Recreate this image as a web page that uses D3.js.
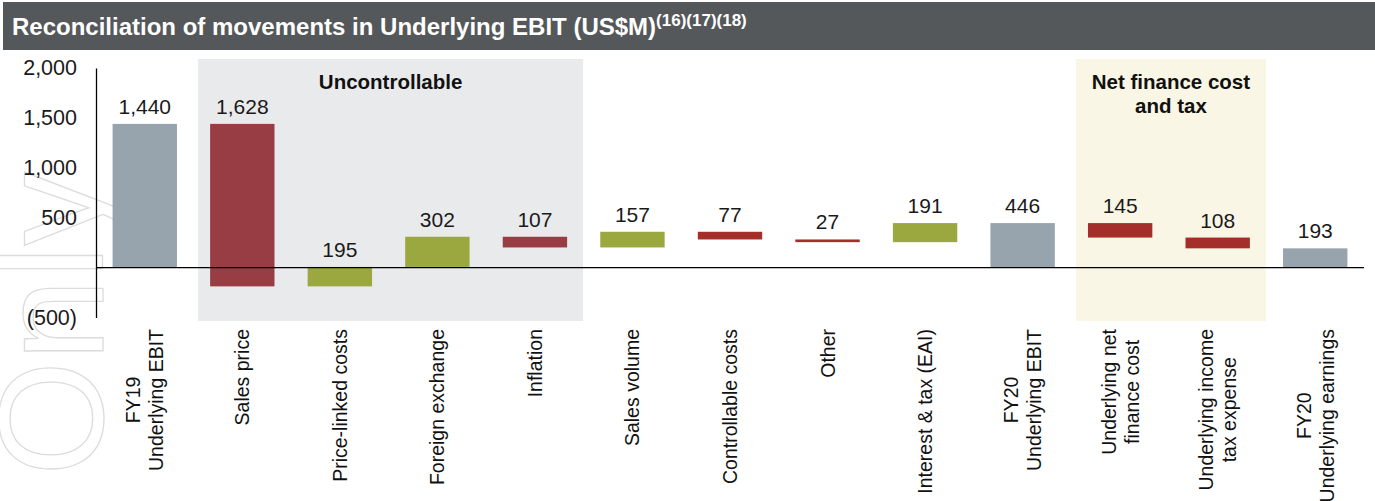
<!DOCTYPE html>
<html>
<head>
<meta charset="utf-8">
<title>Reconciliation of movements in Underlying EBIT</title>
<style>
  body { margin: 0; background: #fff; }
  svg { display: block; font-family: "Liberation Sans", Arial, sans-serif; }
</style>
</head>
<body>
<div id="chart"></div>
<script src="https://cdn.jsdelivr.net/npm/d3@7/dist/d3.min.js"></script>
<script>
// data
var categories = [
  "FY19\nUnderlying EBIT", "Sales price", "Price-linked costs", "Foreign exchange",
  "Inflation", "Sales volume", "Controllable costs", "Other", "Interest & tax (EAI)",
  "FY20\nUnderlying EBIT", "Underlying net\nfinance cost", "Underlying income\ntax expense",
  "FY20\nUnderlying earnings"
];
var values = [1440, -1628, 195, 302, -107, 157, -77, -27, 191, 446, -145, -108, 193];
var isTotal = [true, false, false, false, false, false, false, false, false, true, false, false, true];
var yTicks = [-500, 500, 1000, 1500, 2000];
var groups = [
  { name: "Uncontrollable", from: 1, to: 4, fill: "#e9eaec" },
  { name: "Net finance cost\nand tax", from: 10, to: 11, fill: "#faf6e6" }
];

var W = 1375, H = 501;
var svg = d3.select('#chart').append('svg').attr('width', W).attr('height', H);

// faint watermark on the left edge
svg.append('text')
  .attr('transform', 'translate(103,476) rotate(-90)')
  .attr('font-size', 148)
  .attr('fill', 'none')
  .attr('stroke', '#dcdcdc')
  .attr('stroke-width', 1.3)
  .text('Only');

// title band
svg.append('rect').attr('x', 3).attr('y', 2).attr('width', W - 3).attr('height', 48).attr('fill', '#55585b');
var title = svg.append('text').attr('x', 12).attr('y', 35)
  .attr('fill', '#fff').attr('font-weight', 'bold').attr('font-size', 24);
title.append('tspan').text('Reconciliation of movements in Underlying EBIT (US$M)');
title.append('tspan').attr('font-size', 17).attr('dy', -9).text('(16)(17)(18)');

var x = d3.scaleBand().domain(d3.range(categories.length)).range([96, 1364])
  .paddingInner(0.34).paddingOuter(0.17);
var y = d3.scaleLinear().domain([-500, 2000]).range([317.5, 68]);

// group backgrounds
groups.forEach(function(g) {
  var x0 = x(g.from) - 12, x1 = x(g.to) + x.bandwidth() + 16;
  svg.append('rect').attr('x', x0).attr('y', 59).attr('width', x1 - x0).attr('height', 262).attr('fill', g.fill);
  var t = svg.append('text').attr('x', (x0 + x1) / 2).attr('y', 89)
    .attr('text-anchor', 'middle').attr('font-weight', 'bold').attr('font-size', 20.5).attr('fill', '#111');
  g.name.split('\n').forEach(function(line, i) {
    t.append('tspan').attr('x', (x0 + x1) / 2).attr('dy', i ? 24 : 0).text(line);
  });
});

// waterfall
var run = 0;
var bars = values.map(function(v, i) {
  var start = isTotal[i] ? 0 : run;
  var end = isTotal[i] ? v : run + v;
  run = end;
  return { i: i, v: v, lo: Math.min(start, end), hi: Math.max(start, end) };
});

function barColor(d) {
  if (isTotal[d.i]) return '#97a3ad';
  if (d.v > 0) return '#9aa83f';
  return (d.i >= 1 && d.i <= 4) ? '#973d43' : '#a32e2a';
}

svg.selectAll('rect.bar').data(bars).enter().append('rect').attr('class', 'bar')
  .attr('x', function(d) { return x(d.i); })
  .attr('width', x.bandwidth())
  .attr('y', function(d) { return y(d.hi); })
  .attr('height', function(d) { return Math.max(2, y(d.lo) - y(d.hi)); })
  .attr('fill', barColor);

var fmt = d3.format(',');
svg.selectAll('text.val').data(bars).enter().append('text').attr('class', 'val')
  .attr('x', function(d) { return x(d.i) + x.bandwidth() / 2; })
  .attr('y', function(d) { return y(d.hi) - 10; })
  .attr('text-anchor', 'middle').attr('font-size', 21).attr('fill', '#1a1a1a')
  .text(function(d) { return fmt(Math.abs(d.v)); });

// axes
var yAxis = d3.axisLeft(y).tickValues(yTicks).tickSize(0).tickSizeOuter(0).tickPadding(19)
  .tickFormat(function(d) { return d < 0 ? '(' + fmt(-d) + ')' : fmt(d); });
var ga = svg.append('g').attr('transform', 'translate(96,0)').call(yAxis);
ga.select('.domain').attr('stroke', '#000').attr('stroke-width', 1.3);
ga.selectAll('text').attr('font-size', 21.5).attr('fill', '#1a1a1a').attr('font-family', '"Liberation Sans", Arial, sans-serif');

svg.append('line').attr('x1', 96).attr('x2', 1364).attr('y1', y(0)).attr('y2', y(0))
  .attr('stroke', '#000').attr('stroke-width', 1.3);

// rotated category labels, top aligned
var lh = 23;
categories.forEach(function(c, i) {
  var lines = c.split('\n');
  var cx = x(i) + x.bandwidth() / 2;
  var g = svg.append('g');
  var texts = lines.map(function(line) {
    return g.append('text').attr('font-size', 19.5).attr('fill', '#111')
      .attr('text-anchor', 'middle').text(line);
  });
  var maxLen = d3.max(texts, function(t) { return t.node().getComputedTextLength(); });
  var cy = 329 + maxLen / 2;
  texts.forEach(function(t, k) {
    var bx = cx + (k - (lines.length - 1) / 2) * lh + 7;
    t.attr('transform', 'translate(' + bx + ',' + cy + ') rotate(-90)');
  });
});
</script>
</body>
</html>
